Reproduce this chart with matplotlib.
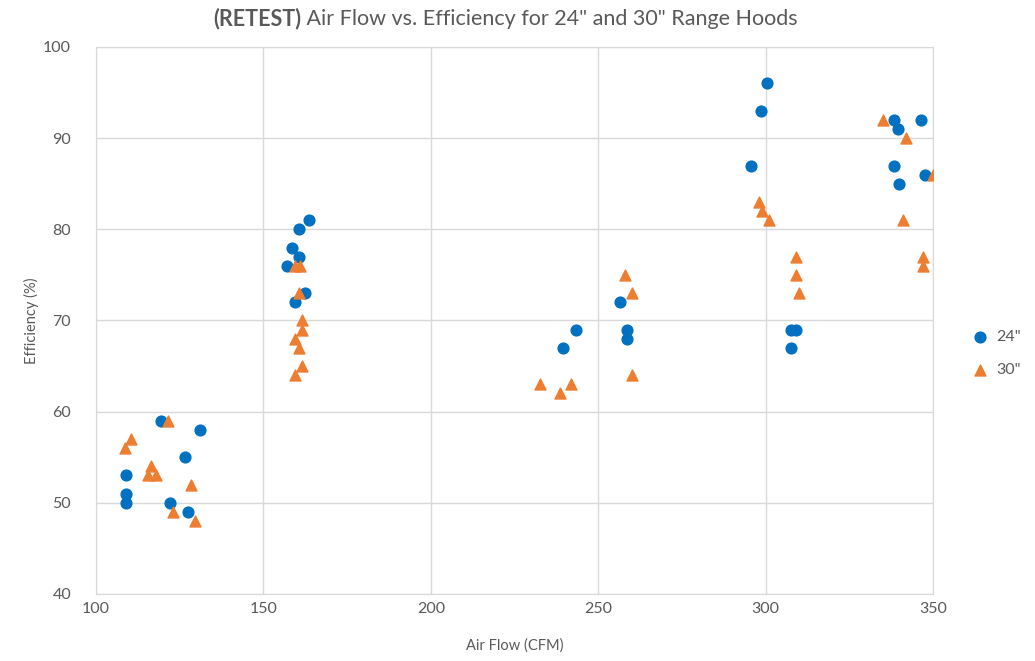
import matplotlib.pyplot as plt

# 24" hoods
flow_24 = [109, 109, 109, 119.5, 126.5, 131, 122, 127.5,
           163.5, 160.5, 158.5, 160.5, 157, 162.5, 159.5,
           256.5, 243.5, 239.5, 258.5, 258.5,
           300.5, 298.5, 295.5, 307.5, 309, 307.5,
           338.5, 339.5, 346.5, 338.5, 340, 347.5]
eff_24 = [53, 51, 50, 59, 55, 58, 50, 49,
          81, 80, 78, 77, 76, 73, 72,
          72, 69, 67, 69, 68,
          96, 93, 87, 69, 69, 67,
          92, 91, 92, 87, 85, 86]

# 30" hoods
flow_30 = [121.5, 110.5, 108.5, 116.5, 115.5, 118, 128.5, 123, 129.5,
           159.5, 161, 160.5, 161.5, 161.5, 159.5, 160.5, 161.5, 159.5,
           258, 260, 260, 232.5, 242, 238.5,
           298, 299, 301, 309, 309, 310,
           335, 342, 350, 341, 347, 347]
eff_30 = [59, 57, 56, 54, 53, 53, 52, 49, 48,
          76, 76, 73, 70, 69, 68, 67, 65, 64,
          75, 73, 64, 63, 63, 62,
          83, 82, 81, 77, 75, 73,
          92, 90, 86, 81, 77, 76]

x_ticks = [100, 150, 200, 250, 300, 350]
y_ticks = [40, 50, 60, 70, 80, 90, 100]

plt.rcParams['font.family'] = ['Lato', 'DejaVu Sans']
gray = '#595959'
gridc = '#d9d9d9'

fig = plt.figure(figsize=(10.35, 6.61), dpi=100)
ax = fig.add_axes([0.0928, 0.1014, 0.8086, 0.8275])

ax.scatter(flow_24, eff_24, s=60, marker='o', color='#0070C0', label='24"', zorder=3)
ax.scatter(flow_30, eff_30, s=62, marker='^', color='#ED7D31', label='30"', zorder=3)

ax.set_xlim(100, 350)
ax.set_ylim(40, 100)
ax.set_xticks(x_ticks)
ax.set_yticks(y_ticks)
ax.grid(True, color=gridc, lw=1)
ax.set_axisbelow(True)
for s in ax.spines.values():
    s.set_color(gridc)
ax.tick_params(length=0, colors=gray, labelsize=11.5)
ax.tick_params(axis='y', pad=18)
ax.tick_params(axis='x', pad=6)

ax.set_xlabel('Air Flow (CFM)', color=gray, fontsize=10.5, labelpad=16)
ax.set_ylabel('Efficiency (%)', color=gray, fontsize=10.5, labelpad=3)

t1 = fig.text(0.206, 0.962, '(RETEST)', weight='bold', color=gray, fontsize=15.5, va='baseline')
ax.annotate(' Air Flow vs. Efficiency for 24" and 30" Range Hoods', xy=(1, 0), xycoords=t1,
            va='bottom', ha='left', color=gray, fontsize=15.5)

ax.legend(loc='center left', bbox_to_anchor=(1.02, 0.44), frameon=False,
          handletextpad=0.0, labelspacing=1.2, fontsize=11.5, labelcolor=gray)

fig.savefig('out.png', dpi=100)
